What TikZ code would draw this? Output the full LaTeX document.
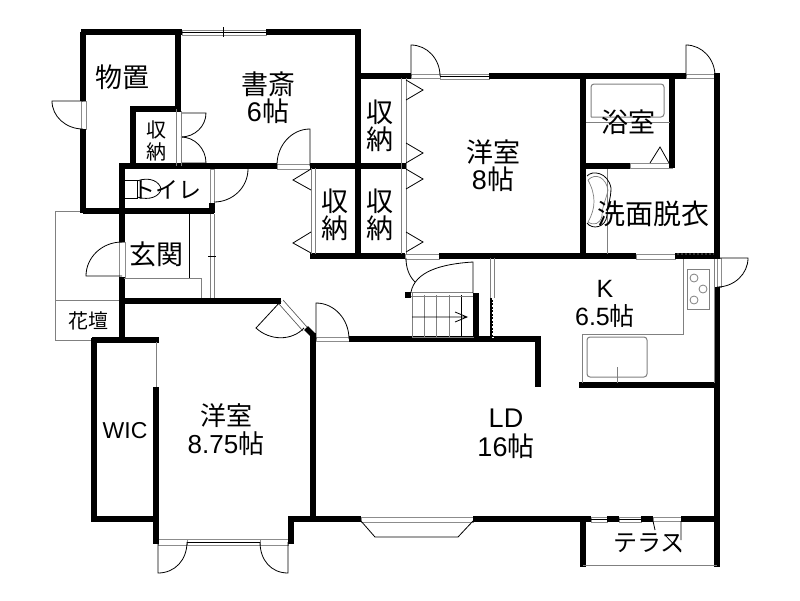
\documentclass[tikz,border=0pt]{standalone}
\usepackage{fontspec}
\setmainfont{Liberation Sans}
\newfontfamily\jpfont{Noto Sans CJK JP}
\usepackage{tikz}
\tikzstyle{wall}=[line width=5.5pt, line cap=butt, black]
\tikzstyle{fine}=[line width=0.8pt, black]
\tikzstyle{sill}=[line width=0.8pt, draw=black!45, fill=white]
\tikzstyle{grayLine}=[line width=1pt, black!50]
\tikzstyle{room}=[inner sep=0pt, align=center, font=\fontsize{27}{27}\selectfont]
\tikzstyle{roomS}=[inner sep=0pt, align=center, font=\fontsize{20}{22}\selectfont]
\newcommand{\jo}{{\jpfont 帖}}
\newcommand{\closetText}{{\jpfont 収}\\{\jpfont 納}}

\begin{document}
\begin{tikzpicture}[x=1pt, y=-1pt]
    \useasboundingbox[fill=white] (0,0) rectangle (800,600);

    % porch and flower bed
    \draw[grayLine] (81,211) -- (55,211) -- (55,340) -- (122,340) (55,300) -- (122,300);

    % sills and windows
    \foreach \xa/\ya/\xb/\yb in {
        182/30/266/35, 81/101/86/129, 119/242/125/277, 277/164/310/169,
        411/74/440/78, 440/74/489/79, 686/74/715/78, 630/163/672/168,
        636/254/675/259, 405/254/439/259, 316/337/349/341, 158/539/187/545,
        260/539/288/545, 187/539/260/545, 361/517/473/522, 591/517/607/522,
        619/517/641/522, 653/517/681/521, 210/169/214/203, 717/258/721/287} {
        \draw[sill] (\xa,\ya) rectangle (\xb,\yb);
    }
    \draw[fine] (182,32) -- (266,32) (223,27) -- (223,37);
    \draw[fine] (440,76) -- (489,76) (591,519) -- (607,519) (619,519) -- (641,519) (187,542) -- (260,542);

    % walls
    \draw[wall] (81,32) -- (182,32) (266,32) -- (361,32);
    \draw[wall] (83,32) -- (83,101) (83,129) -- (83,213);
    \draw[wall] (178,32) -- (178,109) -- (130,109);
    \draw[wall] (133,106) -- (133,166);
    \draw[wall] (119,166) -- (277,166) (310,166) -- (406,166);
    \draw[wall] (83,211) -- (214,211);
    \draw[wall] (212,203) -- (212,213);
    \draw[wall] (122,166) -- (122,242) (122,277) -- (122,343);
    \draw[wall] (358,29) -- (358,259);
    \draw[wall] (310,256) -- (405,256) (439,256) -- (636,256) (675,256) -- (720,256);
    \draw[wall] (358,76) -- (411,76) (489,76) -- (686,76);
    \draw[wall] (583,76) -- (583,259);
    \draw[wall] (672,76) -- (672,168);
    \draw[wall] (583,166) -- (630,166);
    \draw[wall] (717,73) -- (717,258) (717,287) -- (717,567);
    \draw[wall] (579,385) -- (717,385);
    \draw[wall] (349,339) -- (538,339) (538,336) -- (538,387);
    \draw[wall] (476,293) -- (476,339);
    \draw[wall] (405,295) -- (411,295);
    \draw[wall] (122,301) -- (281,301);
    \draw[wall] (306,328) -- (313,335);
    \draw[wall] (313,333) -- (313,522);
    \draw[wall] (92,340) -- (159,340);
    \draw[wall] (94,338) -- (94,522);
    \draw[wall] (92,519) -- (156,519);
    \draw[wall] (156,387) -- (156,544);
    \draw[wall] (291,544) -- (291,519) -- (361,519);
    \draw[wall] (473,519) -- (591,519) (607,519) -- (619,519) (641,519) -- (653,519) (681,519) -- (717,519);
    \draw[wall] (583,519) -- (583,567);
    \draw[line width=3pt] (491,298) -- (491,338);
    \draw[line width=1.5pt, white, dash pattern=on 1.5pt off 2pt] (493,298) -- (493,338);
    \draw[line width=2pt, black!80, dash pattern=on 2pt off 2pt] (677,254) -- (714,254);

    % doors
    \draw[fine] (83,101) -- (52,101) arc[start angle=180, end angle=270, x radius=31pt, y radius=28pt];
    \draw[fine] (181,113) -- (206,113) arc[start angle=0, end angle=-90, x radius=25pt, y radius=24pt];
    \draw[fine] (181,163) -- (206,163) arc[start angle=0, end angle=90, x radius=25pt, y radius=26pt];
    \draw[fine] (277,165) arc[start angle=180, end angle=90, x radius=33pt, y radius=36pt] -- (310,166);
    \draw[fine] (248,169) arc[start angle=0, end angle=-90, x radius=34pt, y radius=33pt];
    \draw[fine] (122,276) -- (86,276) arc[start angle=180, end angle=90, x radius=36pt, y radius=34pt];
    \draw[fine] (411,76) -- (411,45) arc[start angle=90, end angle=0, x radius=29pt, y radius=31pt];
    \draw[fine] (686,76) -- (686,45) arc[start angle=90, end angle=0, x radius=29pt, y radius=31pt];
    \draw[fine] (316,339) -- (316,303) arc[start angle=90, end angle=0, x radius=33pt, y radius=36pt];
    \draw[fine] (717,258) -- (748,258) arc[start angle=0, end angle=-90, x radius=31pt, y radius=29pt];
    \draw[fine] (281,301) -- (256,328) .. controls (270,341) and (292,341) .. (304,328);
    \draw[line width=0.6pt, black!70] (279,304) -- (303,331) (283,300) -- (307,327);
    \draw[fine] (158,542) -- (158,573) .. controls (175,573) and (187,560) .. (187,542);
    \draw[fine] (288,542) -- (288,573) .. controls (271,573) and (260,560) .. (260,542);
    \draw[fine] (406,258) .. controls (406,268) and (409,276) .. (415,282);

    % closets
    \draw[grayLine] (176,109) -- (176,166);
    \draw[grayLine] (181,111) -- (181,166);
    \draw[grayLine] (311,168) -- (311,254) (315,168) -- (315,254);
    \draw[grayLine] (401,78) -- (401,254) (406,78) -- (406,254);
    \draw[grayLine] (156,342) -- (156,387);
    \foreach \ya in {169,232} {
        \draw[fine] (311,\ya) -- ++(-18,11) -- ++(18,10);
    }
    \foreach \ya in {80,143,169,232} {
        \draw[fine] (406,\ya) -- ++(17,10) -- ++(-17,10);
    }

    % entrance
    \draw[fine] (189,213) -- (189,278);
    \draw[grayLine] (124,278) -- (201,278) -- (201,298);
    \draw[grayLine] (210,214) -- (210,298) (214,214) -- (214,298);
    \draw[fine] (208,256) -- (216,256);

    % toilet
    \draw[fine] (125,180) -- (137,180) -- (137,198) -- (125,198);
    \draw[fine] (137,181) .. controls (150,176) and (160,182) .. (161,189) .. controls (160,196) and (150,201) .. (137,197);

    % bath and washroom
    \draw[grayLine, rounded corners=3pt] (591,117) -- (591,84) -- (664,84) -- (664,117) -- (591,117);
    \draw[grayLine] (586,122) -- (670,122);
    \draw[fine] (650,163) -- (660,147) -- (669,163);
    \draw[grayLine, line width=0.8pt] (607,169) -- (607,254);
    \draw[fine] (587,176) .. controls (592,170) and (608,172) .. (611,188) .. controls (611,200) and (607,205) .. (607,215)
        .. controls (606,228) and (592,230) .. (587,223);
    \draw[grayLine, line width=0.7pt] (588,180) .. controls (596,172) and (606,178) .. (608,190) .. controls (606,200) and (602,206) .. (602,216)
        .. controls (600,224) and (594,226) .. (588,222) .. controls (596,208) and (596,195) .. (588,180);

    % kitchen
    \draw[grayLine] (683,259) -- (683,334) -- (582,334) -- (582,383);
    \draw[grayLine] (714,259) -- (714,383);
    \draw[grayLine, fill=white] (687,269) rectangle (709,309);
    \draw[grayLine, line width=0.8pt] (694,278) circle[radius=4pt] (703,289) circle[radius=4pt] (694,300) circle[radius=4pt];
    \draw[grayLine, rounded corners=3pt] (587,337) rectangle (647,377);
    \draw[grayLine] (617,367) -- (617,383);

    % stairs
    \draw[grayLine] (412,293) -- (412,337) (424,295) -- (424,337) (436,295) -- (436,337) (449,295) -- (449,337) (412,337) -- (474,337);
    \draw[fine] (461,295) -- (461,337);
    \draw[fine] (412,317) -- (467,317) (455,312) -- (467,317) -- (455,322);
    \draw[grayLine] (411,292) -- (473,292) (411,296) -- (473,296);
    \draw[fine] (411,292) .. controls (415,272) and (440,264) .. (473,262) -- (473,293);
    \draw[grayLine] (490,258) -- (490,298) (494,258) -- (494,298);

    % bay window and terrace
    \draw[fine] (361,521) -- (375,537) -- (458,537) -- (473,521);
    \draw[grayLine, line width=0.7pt] (583,565) -- (717,565);
    \draw[fine] (653,521) -- (655,530) (681,521) -- (681,540) (665,535) -- (681,552);

    % rooms
    \draw (122,77) node[room] (storeroom) {\jpfont 物置};
    \draw (268,98) node[room] (study) {{\jpfont 書斎}\\6\jo};
    \draw (156,141) node[roomS] (closetS) {\closetText};
    \draw (380,126) node[room] (closetA) {\closetText};
    \draw (380,215) node[room] (closetB) {\closetText};
    \draw (335,215) node[room] (closetC) {\closetText};
    \draw (493,166) node[room] (roomA) {{\jpfont 洋室}\\8\jo};
    \draw (628,122) node[room] (bath) {\jpfont 浴室};
    \draw (653,214) node[room, font=\fontsize{28}{28}\selectfont] (wash) {\jpfont 洗面脱衣};
    \draw (167,190) node[inner sep=0pt, font=\fontsize{23}{23}\selectfont] (toilet) {\jpfont トイレ};
    \draw (156,254) node[room] (entry) {\jpfont 玄関};
    \draw (88,321) node[inner sep=0pt, font=\fontsize{20}{20}\selectfont] (bed) {\jpfont 花壇};
    \draw (605,304) node[room, font=\fontsize{25}{28}\selectfont] (kitchen) {K\\6.5\jo};
    \draw (226,430) node[room, font=\fontsize{26}{28}\selectfont] (roomB) {{\jpfont 洋室}\\8.75\jo};
    \draw (125,431) node[room, font=\fontsize{23}{23}\selectfont] (wic) {WIC};
    \draw (506,434) node[room, font=\fontsize{27}{29}\selectfont] (ld) {LD\\16\jo};
    \draw (649,543) node[inner sep=0pt, font=\fontsize{24}{24}\selectfont] (terrace) {\jpfont テラス};
\end{tikzpicture}
\end{document}
